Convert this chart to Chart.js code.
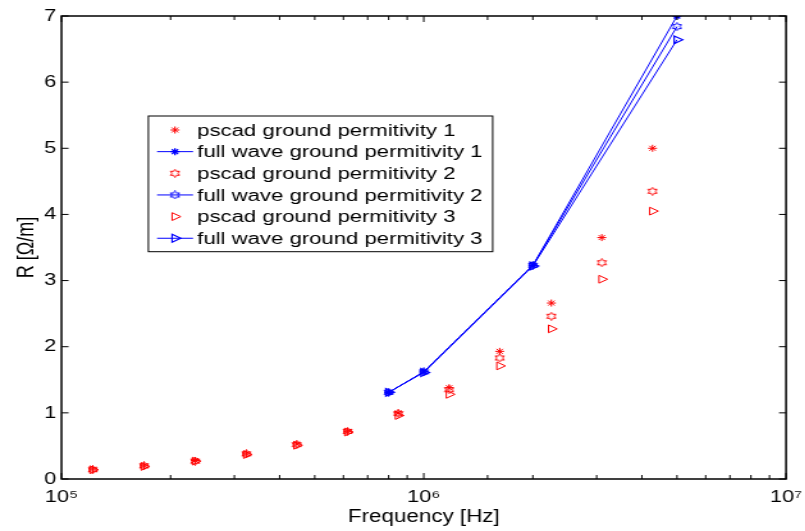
<!DOCTYPE html>
<html>
<head>
<meta charset="utf-8">
<script src="https://cdn.jsdelivr.net/npm/chart.js@4.4.1/dist/chart.umd.min.js"></script>
<style>
  html, body { margin: 0; padding: 0; background: #fff; overflow: hidden; }
  /* the figure is laid out narrow and widened horizontally */
  #wrap { width: 629px; height: 531px; transform: scaleX(1.28); transform-origin: 0 0; }
  canvas { display: block; }
</style>
</head>
<body>
<div id="wrap"><canvas id="c" width="629" height="531"></canvas></div>
<script>
// Frequencies of the PSCAD samples [Hz]
const pscadFreq = [1.22e5, 1.69e5, 2.34e5, 3.24e5, 4.46e5, 6.16e5, 8.5e5, 1.175e6, 1.62e6, 2.25e6, 3.10e6, 4.28e6];
// PSCAD resistance [Ohm/m] for ground permittivity 1, 2, 3
const pscadR1 = [0.15, 0.20, 0.28, 0.38, 0.53, 0.72, 1.00, 1.38, 1.93, 2.66, 3.65, 5.00];
const pscadR2 = [0.14, 0.20, 0.27, 0.38, 0.52, 0.72, 0.99, 1.35, 1.83, 2.46, 3.27, 4.35];
const pscadR3 = [0.14, 0.19, 0.27, 0.37, 0.51, 0.71, 0.96, 1.28, 1.71, 2.27, 3.02, 4.05];
// Full-wave model frequencies [Hz] and resistance [Ohm/m]
const fullFreq = [8e5, 1e6, 2e6, 5e6];
const fullR1 = [1.31, 1.62, 3.23, 7.00];
const fullR2 = [1.31, 1.62, 3.23, 6.84];
const fullR3 = [1.31, 1.61, 3.22, 6.64];

const seriesLabels = [
  'pscad ground permitivity 1',
  'full wave ground permitivity 1',
  'pscad ground permitivity 2',
  'full wave ground permitivity 2',
  'pscad ground permitivity 3',
  'full wave ground permitivity 3'
];
const yTickValues = [0, 1, 2, 3, 4, 5, 6, 7];
const xDecades = [1e5, 1e6, 1e7];

const RED = '#ff0000';
const BLUE = '#0000ff';
const FONT = "'Liberation Sans', Arial, Helvetica, sans-serif";

// six-pointed star outline used as a marker
function hexagram(color) {
  const c = document.createElement('canvas');
  c.width = 9; c.height = 9;
  const g = c.getContext('2d');
  g.strokeStyle = color;
  g.lineWidth = 1;
  const cx = 4.5, cy = 4.5, ro = 4, ri = 4 / Math.sqrt(3);
  g.beginPath();
  for (let k = 0; k < 12; k++) {
    const r = k % 2 === 0 ? ro : ri;
    const a = -Math.PI / 2 + k * Math.PI / 6;
    const px = cx + r * Math.cos(a), py = cy + r * Math.sin(a);
    if (k === 0) g.moveTo(px, py); else g.lineTo(px, py);
  }
  g.closePath();
  g.stroke();
  return c;
}
const hexRed = hexagram(RED);
const hexBlue = hexagram(BLUE);

const toPoints = (xs, ys) => xs.map((x, i) => ({ x: x, y: ys[i] }));

const SUP = { '0': '\u2070', '1': '\u00b9', '2': '\u00b2', '3': '\u00b3', '4': '\u2074', '5': '\u2075', '6': '\u2076', '7': '\u2077', '8': '\u2078', '9': '\u2079' };
const isDecade = v => Math.abs(Math.log10(v) - Math.round(Math.log10(v))) < 1e-9;

function marker(style, color, radius, rotation, width) {
  return {
    pointStyle: style, pointRadius: radius, pointHoverRadius: radius,
    pointRotation: rotation || 0,
    pointBorderColor: color, pointBackgroundColor: 'rgba(0,0,0,0)',
    pointBorderWidth: width || 1
  };
}

const datasets = [
  Object.assign({ label: seriesLabels[0], data: toPoints(pscadFreq, pscadR1), showLine: false, borderColor: RED, order: 6 }, marker('star', RED, 3.5)),
  Object.assign({ label: seriesLabels[1], data: toPoints(fullFreq, fullR1), showLine: true, borderColor: BLUE, borderWidth: 1, order: 5 }, marker('star', BLUE, 3.5, 0, 1.3)),
  Object.assign({ label: seriesLabels[2], data: toPoints(pscadFreq, pscadR2), showLine: false, borderColor: RED, order: 4 }, marker(hexRed, RED, 4)),
  Object.assign({ label: seriesLabels[3], data: toPoints(fullFreq, fullR2), showLine: true, borderColor: BLUE, borderWidth: 1, order: 3 }, marker(hexBlue, BLUE, 4)),
  Object.assign({ label: seriesLabels[4], data: toPoints(pscadFreq, pscadR3), showLine: false, borderColor: RED, order: 2 }, marker('triangle', RED, 4.5, 90)),
  Object.assign({ label: seriesLabels[5], data: toPoints(fullFreq, fullR3), showLine: true, borderColor: BLUE, borderWidth: 1, order: 1 }, marker('triangle', BLUE, 4.5, 90, 1.2))
];
datasets.forEach(d => { d.fill = false; d.tension = 0; d.backgroundColor = 'rgba(0,0,0,0)'; });

// box around the axes with inward tick marks on all four sides
const axesBox = {
  id: 'axesBox',
  afterDatasetsDraw(chart) {
    const { ctx, chartArea: a, scales: { x, y } } = chart;
    ctx.save();
    ctx.strokeStyle = '#000';
    ctx.lineWidth = 1;
    const seg = (x1, y1, x2, y2) => { ctx.beginPath(); ctx.moveTo(x1, y1); ctx.lineTo(x2, y2); ctx.stroke(); };
    y.ticks.forEach(t => {
      const py = y.getPixelForValue(t.value);
      seg(a.left, py, a.left + 5.5, py);
      seg(a.right - 5.5, py, a.right, py);
    });
    x.ticks.forEach(t => {
      const px = x.getPixelForValue(t.value);
      const len = isDecade(t.value) ? 6 : 4;
      seg(px, a.bottom, px, a.bottom - len);
      seg(px, a.top, px, a.top + len);
    });
    ctx.lineWidth = 1.5;
    ctx.strokeRect(a.left, a.top, a.right - a.left, a.bottom - a.top);
    ctx.restore();
  }
};

// boxed legend placed inside the axes
const boxedLegend = {
  id: 'boxedLegend',
  afterDraw(chart) {
    const { ctx } = chart;
    const left = 115.9, top = 116, right = 384.9, bottom = 251.7;
    ctx.save();
    ctx.fillStyle = '#fff';
    ctx.fillRect(left, top, right - left, bottom - top);
    ctx.strokeStyle = '#000';
    ctx.lineWidth = 1;
    ctx.strokeRect(left, top, right - left, bottom - top);
    chart.data.datasets.forEach((ds, i) => {
      const cy = 130 + i * 21.65;
      if (ds.showLine) {
        ctx.strokeStyle = ds.borderColor;
        ctx.lineWidth = 1;
        ctx.beginPath(); ctx.moveTo(122.7, cy); ctx.lineTo(150.8, cy); ctx.stroke();
      }
      ctx.strokeStyle = ds.pointBorderColor;
      ctx.fillStyle = 'rgba(0,0,0,0)';
      ctx.lineWidth = ds.pointBorderWidth;
      Chart.helpers.drawPoint(ctx, {
        pointStyle: ds.pointStyle, rotation: ds.pointRotation,
        radius: ds.pointRadius, borderWidth: ds.pointBorderWidth
      }, 136.7, cy);
      ctx.fillStyle = '#000';
      ctx.font = '17.3px ' + FONT;
      ctx.textAlign = 'left';
      ctx.textBaseline = 'middle';
      ctx.fillText(ds.label, 154.1, cy + 1);
    });
    ctx.restore();
  }
};

new Chart(document.getElementById('c'), {
  type: 'line',
  data: { datasets: datasets },
  plugins: [axesBox, boxedLegend],
  options: {
    responsive: false,
    animation: false,
    events: [],
    layout: { padding: { left: 0, right: 14.9, top: 16, bottom: 0 } },
    plugins: { legend: { display: false }, tooltip: { enabled: false } },
    scales: {
      x: {
        type: 'logarithmic',
        min: xDecades[0],
        max: xDecades[xDecades.length - 1],
        grid: { display: false, drawTicks: false },
        border: { display: false },
        ticks: {
          autoSkip: false, maxRotation: 0, minRotation: 0, padding: 8,
          color: '#000', font: { family: FONT, size: 17 },
          callback: v => isDecade(v)
            ? '10' + String(Math.round(Math.log10(v))).split('').map(d => SUP[d]).join('')
            : ''
        },
        title: {
          display: true, text: 'Frequency [Hz]', color: '#000',
          font: { family: FONT, size: 17.5 }, padding: { top: 0, bottom: 3 }
        },
        afterFit(s) { s.height = 52; s.paddingLeft = 0; s.paddingRight = 0; }
      },
      y: {
        type: 'linear',
        min: yTickValues[0],
        max: yTickValues[yTickValues.length - 1],
        grid: { display: false, drawTicks: false },
        border: { display: false },
        ticks: { stepSize: 1, padding: 4, color: '#000', font: { family: FONT, size: 17 } },
        title: {
          display: true, text: 'R [\u03a9/m]', color: '#000',
          font: { family: FONT, size: 18 }, padding: { top: 10, bottom: 0 }
        },
        afterFit(s) { s.width = 48.05; s.paddingTop = 0; s.paddingBottom = 0; }
      }
    }
  }
});
</script>
</body>
</html>
